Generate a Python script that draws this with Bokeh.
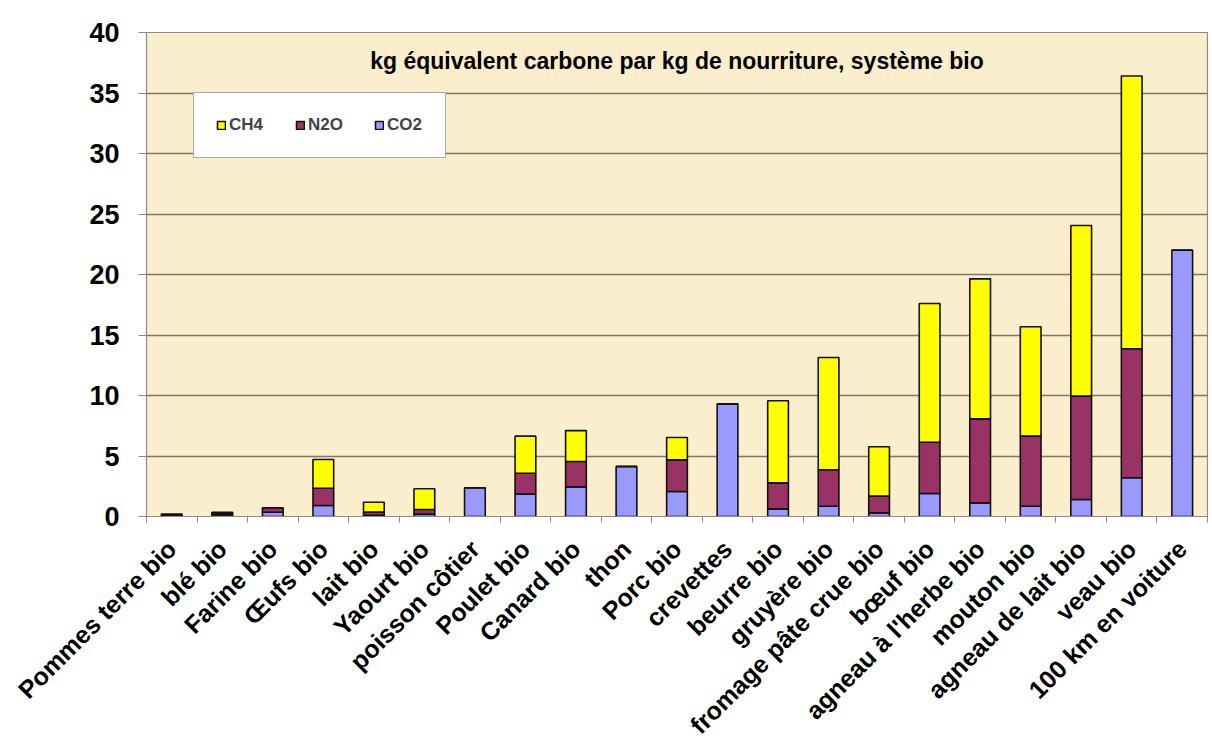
import math
from bokeh.plotting import figure
from bokeh.models import (Range1d, FixedTicker, Legend, LegendItem,
                          LinearAxis, Label, ColumnDataSource)
from bokeh.embed import file_html
from bokeh.resources import INLINE

categories = ["Pommes terre bio", "blé bio", "Farine bio", "Œufs bio", "lait bio",
              "Yaourt bio", "poisson côtier", "Poulet bio", "Canard bio", "thon",
              "Porc bio", "crevettes", "beurre bio", "gruyère bio",
              "fromage pâte crue bio", "bœuf bio", "agneau à l'herbe bio",
              "mouton bio", "agneau de lait bio", "veau bio", "100 km en voiture"]

co2 = [0.08, 0.15, 0.35, 0.91, 0.10, 0.20, 2.37, 1.85, 2.45, 4.13, 2.07, 9.31,
       0.63, 0.85, 0.30, 1.90, 1.13, 0.85, 1.40, 3.20, 22.0]
n2o = [0.07, 0.15, 0.37, 1.43, 0.26, 0.38, 0.0, 1.73, 2.10, 0.0, 2.61, 0.0,
       2.15, 3.01, 1.38, 4.24, 6.94, 5.79, 8.55, 10.66, 0.0]
ch4 = [0.05, 0.05, 0.0, 2.37, 0.82, 1.71, 0.0, 3.06, 2.55, 0.0, 1.85, 0.0,
       6.78, 9.28, 4.08, 11.46, 11.57, 9.04, 14.10, 22.54, 0.0]

y_ticks = [0, 5, 10, 15, 20, 25, 30, 35, 40]
title_text = "kg équivalent carbone par kg de nourriture, système bio"
series = ["CO2", "N2O", "CH4"]
colors = {"CO2": "#9999FF", "N2O": "#993366", "CH4": "#FFFF00"}

FONT = "Liberation Sans"
n = len(categories)
pos = list(range(n))

p = figure(x_range=Range1d(-0.5, n - 0.5),
           y_range=Range1d(0, 40),
           frame_width=1061, frame_height=484,
           min_border_left=146, min_border_top=32, min_border_right=4,
           min_border_bottom=180,
           output_backend="svg", toolbar_location=None,
           x_axis_location=None, y_axis_location=None)

p.border_fill_color = "white"
p.background_fill_color = "#FBEECD"
p.outline_line_color = "#8c8c8c"
p.outline_line_width = 1.2

source = ColumnDataSource(data={"x": pos, "CO2": co2, "N2O": n2o, "CH4": ch4})
renderers = p.vbar_stack(series, x="x", width=0.41, source=source,
                         fill_color=[colors[s] for s in series],
                         line_color="#111111", line_width=1.6)

# y axis
yaxis = LinearAxis(ticker=FixedTicker(ticks=y_ticks))
yaxis.axis_line_color = "#8c8c8c"
yaxis.major_tick_line_color = "#8c8c8c"
yaxis.major_tick_out = 8
yaxis.major_tick_in = 0
yaxis.minor_tick_line_color = None
yaxis.major_label_text_font = FONT
yaxis.major_label_text_font_style = "bold"
yaxis.major_label_text_font_size = "27px"
yaxis.major_label_text_color = "black"
yaxis.major_label_standoff = 19
p.add_layout(yaxis, "left")

# x tick axis (ticks between categories, no labels)
taxis = LinearAxis(ticker=FixedTicker(ticks=[i - 0.5 for i in range(n + 1)]))
taxis.axis_line_color = "#8c8c8c"
taxis.major_tick_line_color = "#8c8c8c"
taxis.major_tick_out = 6
taxis.major_tick_in = 0
taxis.minor_tick_line_color = None
taxis.major_label_text_color = None
taxis.major_label_text_font_size = "1px"
taxis.major_label_standoff = 0
p.add_layout(taxis, "below")

# category label axis
xaxis = LinearAxis(ticker=FixedTicker(ticks=pos),
                   major_label_overrides={i: c for i, c in zip(pos, categories)})
xaxis.axis_line_color = None
xaxis.major_tick_line_color = None
xaxis.minor_tick_line_color = None
xaxis.major_tick_out = 0
xaxis.major_label_orientation = math.pi / 4
xaxis.major_label_text_font = FONT
xaxis.major_label_text_font_style = "bold"
xaxis.major_label_text_font_size = "25px"
xaxis.major_label_text_color = "black"
xaxis.major_label_standoff = 22
p.add_layout(xaxis, "below")

p.ygrid.ticker = FixedTicker(ticks=y_ticks)
p.ygrid.grid_line_color = "#7d776c"
p.ygrid.grid_line_width = 1.3
p.xgrid.grid_line_color = None

title = Label(x=(n - 1) / 2, y=37.65, text=title_text,
              text_align="center", text_baseline="middle",
              text_font=FONT, text_font_style="bold", text_font_size="23px",
              text_color="black")
p.add_layout(title)

rmap = dict(zip(series, renderers))
legend = Legend(items=[LegendItem(label=s, renderers=[rmap[s]]) for s in ["CH4", "N2O", "CO2"]],
                orientation="horizontal", location=(47, 358))
legend.label_text_font = FONT
legend.label_text_font_style = "bold"
legend.label_text_font_size = "17px"
legend.label_height = 12
legend.label_width = 36
legend.glyph_width = 10
legend.glyph_height = 10
legend.label_standoff = 3
legend.spacing = 30
legend.padding = 22
legend.margin = 0
legend.border_line_color = "#555555"
legend.border_line_width = 1.2
legend.background_fill_color = "white"
legend.background_fill_alpha = 1.0
p.add_layout(legend, "center")

open("out.html", "w").write(file_html(p, INLINE))
